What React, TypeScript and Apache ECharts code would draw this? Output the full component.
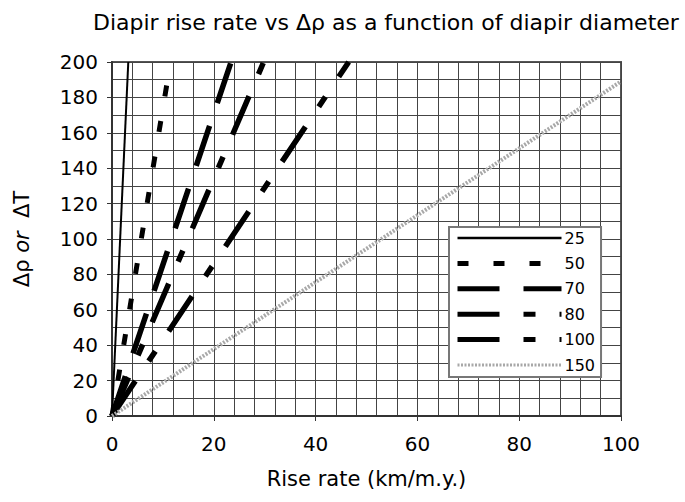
import React, { useEffect, useRef } from "react";
import * as echarts from "echarts";

// Diapir diameter (legend labels)
const seriesNames = ["25", "50", "70", "80", "100", "150"];
// End point of each (straight, through-origin) line
const endRiseRate = [3.2, 11.5, 23.4, 29.8, 46.5, 100];
const endDeltaRho = [200, 200, 200, 200, 200, 189];
const startRiseRate = [0, 0, 0, 0, 0, 0];
const startDeltaRho = [0, 0, 0, 0, 0, 0];

const FONT = "DejaVu Sans";

const lineStyles = [
  { color: "#000", width: 2, type: "solid" },
  { color: "#000", width: 5, type: [11, 25] },
  { color: "#000", width: 5.5, type: [42, 24] },
  { color: "#000", width: 5.5, type: [42, 24, 12, 24] },
  { color: "#000", width: 5.5, type: [42, 24, 12, 24] },
  { color: "#a8a8a8", width: 4, type: [2, 1.5] },
];
const legendWidths = [2.5, 5, 5, 5, 5, 3];

export default function App() {
  const ref = useRef<HTMLDivElement>(null);
  useEffect(() => {
    if (!ref.current) return;
    const chart = echarts.init(ref.current, null, { renderer: "svg" });
    const series = seriesNames.map((name, i) => ({
      name,
      type: "line",
      data: [
        [startRiseRate[i], startDeltaRho[i]],
        [endRiseRate[i], endDeltaRho[i]],
      ],
      showSymbol: false,
      symbol: "none",
      lineStyle: { ...lineStyles[i], cap: "butt" },
      itemStyle: { color: lineStyles[i].color },
      z: 3,
    }));
    chart.setOption({
      animation: false,
      backgroundColor: "#fff",
      textStyle: { fontFamily: FONT },
      title: {
        text: "Diapir rise rate vs Δρ as a function of diapir diameter",
        left: 88,
        top: 6,
        textStyle: { fontFamily: FONT, fontSize: 22, fontWeight: "normal", color: "#000" },
      },
      grid: {
        left: 112,
        right: 64,
        top: 62,
        bottom: 86,
        show: true,
        borderColor: "#555",
        borderWidth: 2,
        backgroundColor: "transparent",
      },
      legend: {
        orient: "vertical",
        left: 449,
        top: 227,
        padding: [3, 6, 4, 6],
        itemWidth: 104,
        itemHeight: 14,
        itemGap: 9.4,
        backgroundColor: "#fff",
        borderColor: "#777",
        borderWidth: 2,
        borderRadius: 0,
        selectedMode: false,
        itemStyle: { opacity: 0 },
        textStyle: { fontFamily: FONT, fontSize: 16, color: "#000", padding: [0, 0, 0, -2] },
        data: seriesNames.map((n, i) => ({
          name: n,
          lineStyle: { width: legendWidths[i] },
          itemStyle: { opacity: 0 },
        })),
      },
      xAxis: {
        type: "value",
        min: 0,
        max: 100,
        interval: 20,
        name: "Rise rate (km/m.y.)",
        nameLocation: "middle",
        nameGap: 52,
        nameTextStyle: { fontFamily: FONT, fontSize: 21, color: "#000" },
        axisLine: { show: true, lineStyle: { color: "#333", width: 2 } },
        axisTick: { show: true, inside: false, length: 5, lineStyle: { color: "#333" } },
        axisLabel: { fontFamily: FONT, fontSize: 20, color: "#000", margin: 18 },
        splitLine: { show: true, lineStyle: { color: "#444", width: 1 } },
        minorTick: { show: false, splitNumber: 5 },
        minorSplitLine: { show: true, lineStyle: { color: "#444", width: 1 } },
      },
      yAxis: {
        type: "value",
        min: 0,
        max: 200,
        interval: 20,
        name: "{a|Δρ }{b|or}{a|  ΔT}",
        nameLocation: "middle",
        nameGap: 80,
        nameTextStyle: {
          color: "#000",
          rich: {
            a: { fontFamily: FONT, fontSize: 21, color: "#000" },
            b: { fontFamily: FONT, fontSize: 21, fontStyle: "italic", color: "#000" },
          },
        },
        axisLine: { show: true, lineStyle: { color: "#333", width: 2 } },
        axisTick: { show: true, inside: false, length: 5, lineStyle: { color: "#333" } },
        axisLabel: { fontFamily: FONT, fontSize: 20, color: "#000", margin: 14 },
        splitLine: { show: true, lineStyle: { color: "#444", width: 1 } },
        minorTick: { show: false, splitNumber: 2 },
        minorSplitLine: { show: true, lineStyle: { color: "#444", width: 1 } },
      },
      series,
    });
    return () => chart.dispose();
  }, []);
  return (
    <div
      ref={ref}
      style={{ position: "absolute", left: 0, top: 0, width: 685, height: 502 }}
    />
  );
}
